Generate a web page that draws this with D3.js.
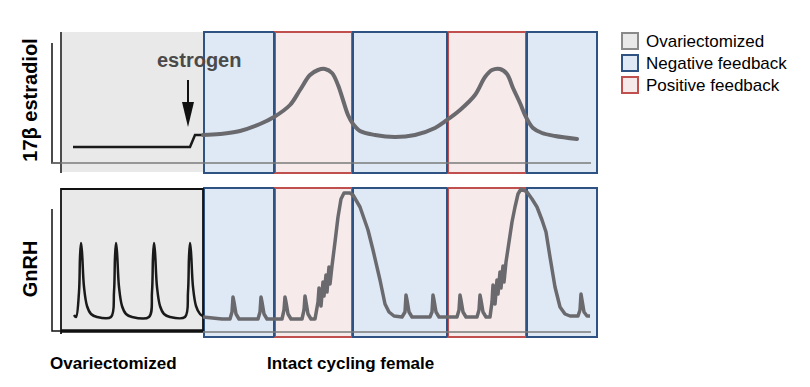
<!DOCTYPE html>
<html>
<head>
<meta charset="utf-8">
<script src="https://cdn.jsdelivr.net/npm/d3@7"></script>
<style>
  body { margin: 0; background: #fff; }
  text { font-family: "Liberation Sans", Arial, sans-serif; }
</style>
</head>
<body>
<div id="chart"></div>
<script>
// time runs in arbitrary units across the whole figure
const phases = [
    {type: "ovx", start: 0, end: 141},
    {type: "neg", start: 141, end: 212},
    {type: "pos", start: 212, end: 290},
    {type: "neg", start: 290, end: 385},
    {type: "pos", start: 385, end: 464},
    {type: "neg", start: 464, end: 535}
];

const legendItems = [
    {type: "ovx", label: "Ovariectomized"},
    {type: "neg", label: "Negative feedback"},
    {type: "pos", label: "Positive feedback"}
];

const estradiolOvx = [[11,16],[128,16],[133,28],[141,28]];
const estradiolIntact = [
    [141,28],[158,29],[178,32],[198,39],[212,46],[228,58],[238,73],[248,88],[256,93],
    [263,94],[270,90],[276,78],[281,63],[286,48],[291,39],[298,32],[313,28],[333,26],
    [353,28],[373,35],[385,43],[398,53],[413,68],[423,86],[430,93],[438,94],[445,89],
    [451,75],[458,60],[464,46],[471,35],[480,30],[493,27],[515,24]
];

const gnrhOvx = [
    [12,17],[14,15],[17,40],[18,75],[19,89],[20,80],[22,45],[25,26],[29,18],[35,15],
    [49,15],[52,40],[53,75],[54,89],[55,80],[57,45],[60,26],[64,18],[70,15],
    [87,15],[90,40],[91,75],[92,89],[93,80],[95,45],[98,26],[102,18],[108,15],
    [123,15],[126,40],[127,75],[128,89],[129,80],[131,45],[134,26],[138,18],[141,16]
];
const gnrhIntact = [
    [141,15],[160,13],[168,13],[170,20],[171,35],[172,30],[174,18],[177,13],
    [196,13],[198,20],[199,35],[200,30],[202,18],[205,13],
    [220,13],[222,22],[223,35],[224,30],[226,18],[229,13],
    [240,13],[242,22],[243,36],[244,30],[246,18],[249,13],[253,13],
    [256,30],[257,44],[259,26],[261,50],[262,36],[264,57],[265,40],[267,65],[268,48],
    [270,66],[273,90],[276,115],[279,133],[282,139],[288,139],[291,137],[298,125],
    [306,102],[311,82],[318,52],[323,28],[327,20],[332,16],
    [340,15],[343,20],[344,37],[345,32],[347,20],[350,15],
    [368,15],[370,20],[371,37],[372,32],[374,20],[377,15],
    [395,15],[397,22],[398,37],[399,32],[401,20],[404,15],
    [415,15],[417,22],[418,37],[419,32],[421,20],[424,15],[428,15],
    [430,30],[431,47],[433,28],[435,52],[436,38],[438,60],[439,44],[441,66],[442,50],
    [444,70],[447,90],[450,110],[453,125],[456,138],[459,143],[465,140],[470,133],
    [475,125],[480,112],[484,100],[488,75],[493,45],[498,25],[503,18],[508,16],
    [516,16],[518,22],[519,38],[520,32],[522,20],[525,16],[528,16]
];

const colors = {
    ovx: {fill: "#e9e9e9", stroke: "#8a8a8a"},
    neg: {fill: "#dfe9f6", stroke: "#2e5383"},
    pos: {fill: "#f6eaea", stroke: "#c0504d"}
};

const width = 810, height = 387;
const svg = d3.select("#chart").append("svg")
    .attr("width", width)
    .attr("height", height);

const x = d3.scaleLinear().domain([0, 535]).range([62, 597]);
const yE = d3.scaleLinear().domain([0, 100]).range([163, 63]);
const yG = d3.scaleLinear().domain([0, 150]).range([332, 182]);

const panels = [
    {top: 32, bottom: 173, axisTop: 43, base: 163},
    {top: 188, bottom: 337, axisTop: 209, base: 331}
];

// background phase boxes
panels.forEach((p, pi) => {
    phases.forEach(ph => {
        if (ph.type === "ovx") {
            svg.append("rect")
                .attr("x", x(ph.start))
                .attr("y", p.top)
                .attr("width", x(ph.end) - x(ph.start))
                .attr("height", (pi === 0 ? p.bottom - 1 : p.base) - p.top)
                .style("fill", colors.ovx.fill);
            return;
        }
        svg.append("rect")
            .attr("x", x(ph.start) + 1)
            .attr("y", p.top)
            .attr("width", x(ph.end) - x(ph.start) - 1)
            .attr("height", p.bottom - p.top)
            .style("fill", colors[ph.type].fill)
            .style("stroke", colors[ph.type].stroke)
            .style("stroke-width", 2);
    });
});

// redraw blue edges on top of red neighbours where they touch
panels.forEach(p => {
    phases.filter(ph => ph.type === "neg").forEach(ph => {
        [ph.start, ph.end].forEach(t => {
            if (t === 141) return;
            const xx = x(t) + (t === ph.start ? 1 : 0);
            svg.append("line")
                .attr("x1", xx).attr("x2", xx)
                .attr("y1", p.top).attr("y2", p.bottom)
                .style("stroke", colors.neg.stroke)
                .style("stroke-width", 2);
        });
    });
});

// original figure axes
svg.append("line").attr("x1", 61).attr("x2", 61).attr("y1", 32).attr("y2", 173)
    .style("stroke", "#111").style("stroke-width", 1.5);
svg.append("path").attr("d", "M52,43 V163 H61")
    .style("fill", "none").style("stroke", "#111").style("stroke-width", 1.5);
svg.append("line").attr("x1", 52).attr("x2", 591).attr("y1", 163).attr("y2", 163)
    .style("stroke", "#7a7a7a").style("stroke-width", 1.5);

// bottom ovx box border
svg.append("path").attr("d", `M61,334 V189 H${x(141)} V331`)
    .style("fill", "none").style("stroke", "#111").style("stroke-width", 1.8);
svg.append("line").attr("x1", 61).attr("x2", x(141)).attr("y1", 331).attr("y2", 331)
    .style("stroke", "#111").style("stroke-width", 3.5);
svg.append("path").attr("d", "M52,209 V331 H61")
    .style("fill", "none").style("stroke", "#111").style("stroke-width", 1.5);
svg.append("line").attr("x1", x(141)).attr("x2", 591).attr("y1", 332).attr("y2", 332)
    .style("stroke", "#7a7a7a").style("stroke-width", 1.5);

// curves
const lineE = d3.line().x(d => x(d[0])).y(d => yE(d[1]));
const lineG = d3.line().x(d => x(d[0])).y(d => yG(d[1]));

svg.append("path").datum(estradiolOvx)
    .attr("d", lineE)
    .style("fill", "none").style("stroke", "#1a1a1a").style("stroke-width", 2.5);
svg.append("path").datum(estradiolIntact)
    .attr("d", lineE.curve(d3.curveCatmullRom))
    .style("fill", "none").style("stroke", "#6a6a6e").style("stroke-width", 4)
    .style("stroke-linecap", "round");

svg.append("path").datum(gnrhOvx)
    .attr("d", lineG.curve(d3.curveCatmullRom))
    .style("fill", "none").style("stroke", "#1a1a1a").style("stroke-width", 2.5);
svg.append("path").datum(gnrhIntact)
    .attr("d", lineG.curve(d3.curveLinear))
    .style("fill", "none").style("stroke", "#6a6a6e").style("stroke-width", 3.5)
    .style("stroke-linejoin", "round");

// estrogen annotation
svg.append("text").attr("x", 157).attr("y", 67)
    .style("font-size", "20px").style("font-weight", "bold").style("fill", "#4a4a4a")
    .text("estrogen");
svg.append("line").attr("x1", 188).attr("x2", 188).attr("y1", 80).attr("y2", 104)
    .style("stroke", "#111").style("stroke-width", 2);
svg.append("path").attr("d", "M182,102 L194,102 L188,127 Z").style("fill", "#111");

// y labels
svg.append("text")
    .attr("transform", "translate(37,100) rotate(-90)")
    .style("text-anchor", "middle").style("font-size", "20px").style("font-weight", "bold")
    .text("17β estradiol");
svg.append("text")
    .attr("transform", "translate(37,269) rotate(-90)")
    .style("text-anchor", "middle").style("font-size", "20px").style("font-weight", "bold")
    .text("GnRH");

// x group labels
svg.append("text").attr("x", 50).attr("y", 369)
    .style("font-size", "17px").style("font-weight", "bold")
    .text("Ovariectomized");
svg.append("text").attr("x", 267).attr("y", 369)
    .style("font-size", "17px").style("font-weight", "bold")
    .text("Intact cycling female");

// legend
const legend = svg.append("g").attr("transform", "translate(621,33)");
const li = legend.selectAll("g").data(legendItems).enter().append("g")
    .attr("transform", (d, i) => `translate(0,${i * 22})`);
li.append("rect")
    .attr("x", 1).attr("y", 0).attr("width", 16).attr("height", 16)
    .style("fill", d => colors[d.type].fill)
    .style("stroke", d => colors[d.type].stroke)
    .style("stroke-width", 2);
li.append("text").attr("x", 25).attr("y", 14)
    .style("font-size", "17px")
    .text(d => d.label);
</script>
</body>
</html>
